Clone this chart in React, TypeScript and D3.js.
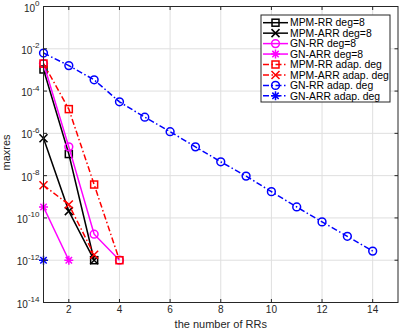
import React from "react";
import * as d3 from "d3";

// values (x = number of RRs, starting at 1)
const mpmRRdeg8 = [1.05e-3, 1.05e-7, 1.0e-12];
const mpmARRdeg8 = [5.9e-7, 2.1e-10, 1.0e-12];
const gnRRdeg8 = [2.0e-3, 2.3e-7, 1.7e-11, 1.0e-12];
const gnARRdeg8 = [3.3e-10, 1.0e-12];
const mpmRRadap = [2.0e-3, 1.4e-5, 3.8e-9, 1.0e-12];
const mpmARRadap = [3.5e-9, 4.3e-10, 1.8e-12];
const gnRRadap = [
  6.3e-3, 1.6e-3, 3.4e-4, 3.1e-5, 5.8e-6, 1.2e-6, 2.3e-7, 4.5e-8, 9.5e-9, 1.75e-9,
  3.3e-10, 6.5e-11, 1.35e-11, 2.7e-12,
];
const gnARRadap = [1.0e-12];

const seriesNames = [
  "MPM-RR deg=8",
  "MPM-ARR deg=8",
  "GN-RR deg=8",
  "GN-ARR deg=8",
  "MPM-RR adap. deg",
  "MPM-ARR adap. deg",
  "GN-RR adap. deg",
  "GN-ARR adap. deg",
];
const xTicks = [2, 4, 6, 8, 10, 12, 14];
const yTickExps = [0, -2, -4, -6, -8, -10, -12, -14];

type Marker = "square" | "x" | "circle" | "star";
const series: { name: string; values: number[]; color: string; dash: boolean; marker: Marker }[] = [
  { name: seriesNames[0], values: mpmRRdeg8, color: "#000000", dash: false, marker: "square" },
  { name: seriesNames[1], values: mpmARRdeg8, color: "#000000", dash: false, marker: "x" },
  { name: seriesNames[2], values: gnRRdeg8, color: "#ff00ff", dash: false, marker: "circle" },
  { name: seriesNames[3], values: gnARRdeg8, color: "#ff00ff", dash: false, marker: "star" },
  { name: seriesNames[4], values: mpmRRadap, color: "#ff0000", dash: true, marker: "square" },
  { name: seriesNames[5], values: mpmARRadap, color: "#ff0000", dash: true, marker: "x" },
  { name: seriesNames[6], values: gnRRadap, color: "#0000ff", dash: true, marker: "circle" },
  { name: seriesNames[7], values: gnARRadap, color: "#0000ff", dash: true, marker: "star" },
];

const W = 399;
const H = 332;
const m = { left: 43.5, right: 1, top: 6.5, bottom: 29.5 };
const FONT = "'Liberation Sans', Arial, Helvetica, sans-serif";
const AX = "#262626";
const DASH = "6,2.5,1.5,2.5";

const MarkerShape = ({ kind, x, y, color }: { kind: Marker; x: number; y: number; color: string }) => {
  const p = { fill: "none", stroke: color, strokeWidth: 1.5 };
  if (kind === "square") return <rect x={x - 3.5} y={y - 3.5} width={7} height={7} {...p} />;
  if (kind === "circle") return <circle cx={x} cy={y} r={3.9} {...p} />;
  if (kind === "x") {
    const s = 4;
    return <path d={`M${x - s},${y - s}L${x + s},${y + s}M${x - s},${y + s}L${x + s},${y - s}`} {...p} />;
  }
  const s = 4.5;
  const d = 3.2;
  return (
    <path
      d={`M${x - s},${y}L${x + s},${y}M${x},${y - s}L${x},${y + s}M${x - d},${y - d}L${x + d},${y + d}M${x - d},${y + d}L${x + d},${y - d}`}
      {...p}
    />
  );
};

export default function App() {
  const x = d3.scaleLinear().domain([1, 15]).range([m.left, W - m.right]);
  const y = d3.scaleLog().domain([1e-14, 1]).range([H - m.bottom, m.top]);
  const line = d3
    .line<number>()
    .x((_, i) => x(i + 1))
    .y((d) => y(d));

  const legX = 261;
  const legY = 15;
  const legW = 129;
  const rowH = 10.45;

  return (
    <svg
      width={W}
      height={H}
      style={{ position: "absolute", left: 0, top: 0, background: "#fff" }}
      fontFamily={FONT}
    >
      {/* grid */}
      <g stroke="#dfdfdf" strokeWidth={1}>
        {xTicks.map((t) => (
          <line key={t} x1={x(t)} x2={x(t)} y1={y(1)} y2={y(1e-14)} />
        ))}
        {yTickExps.map((e) => (
          <line key={e} x1={x(1)} x2={x(15)} y1={y(10 ** e)} y2={y(10 ** e)} />
        ))}
      </g>

      {/* series */}
      {series.map((s) => (
        <g key={s.name}>
          <path
            d={line(s.values) || ""}
            fill="none"
            stroke={s.color}
            strokeWidth={1.5}
            strokeDasharray={s.dash ? DASH : undefined}
          />
          {s.values.map((v, i) => (
            <MarkerShape key={i} kind={s.marker} x={x(i + 1)} y={y(v)} color={s.color} />
          ))}
        </g>
      ))}

      {/* axes box and ticks */}
      <rect
        x={x(1)}
        y={y(1)}
        width={x(15) - x(1)}
        height={y(1e-14) - y(1)}
        fill="none"
        stroke={AX}
        strokeWidth={1}
      />
      <g stroke={AX} strokeWidth={1}>
        {xTicks.map((t) => (
          <g key={t}>
            <line x1={x(t)} x2={x(t)} y1={y(1e-14)} y2={y(1e-14) - 3.5} />
            <line x1={x(t)} x2={x(t)} y1={y(1)} y2={y(1) + 3.5} />
          </g>
        ))}
        {yTickExps.map((e) => (
          <g key={e}>
            <line x1={x(1)} x2={x(1) + 3.5} y1={y(10 ** e)} y2={y(10 ** e)} />
            <line x1={x(15)} x2={x(15) - 3.5} y1={y(10 ** e)} y2={y(10 ** e)} />
          </g>
        ))}
      </g>
      <g fill={AX} fontSize={10}>
        {xTicks.map((t) => (
          <text key={t} x={x(t)} y={y(1e-14) + 10.5} textAnchor="middle">
            {t}
          </text>
        ))}
        {yTickExps.map((e) => (
          <text key={e} x={x(1) - 4} y={y(10 ** e) + 5} textAnchor="end">
            10
            <tspan fontSize={8} dy={-5.5}>
              {e === 0 ? "0" : `-${-e}`}
            </tspan>
          </text>
        ))}
      </g>
      <text x={(x(1) + x(15)) / 2} y={328} textAnchor="middle" fontSize={11} fill={AX}>
        the number of RRs
      </text>
      <text
        transform={`translate(9.5,${(y(1) + y(1e-14)) / 2 - 2}) rotate(-90)`}
        textAnchor="middle"
        fontSize={11}
        fill={AX}
      >
        maxres
      </text>

      {/* legend */}
      <rect x={legX} y={legY} width={legW} height={87} fill="#fff" stroke={AX} strokeWidth={1} />
      {series.map((s, i) => {
        const ry = legY + 7.7 + i * rowH;
        return (
          <g key={s.name}>
            <line
              x1={legX + 2}
              x2={legX + 27}
              y1={ry}
              y2={ry}
              stroke={s.color}
              strokeWidth={1.5}
              strokeDasharray={s.dash ? DASH : undefined}
            />
            <MarkerShape kind={s.marker} x={legX + 14.5} y={ry} color={s.color} />
            <text x={legX + 29} y={ry + 3.7} fontSize={10.4} fill="#000">
              {s.name}
            </text>
          </g>
        );
      })}
    </svg>
  );
}
